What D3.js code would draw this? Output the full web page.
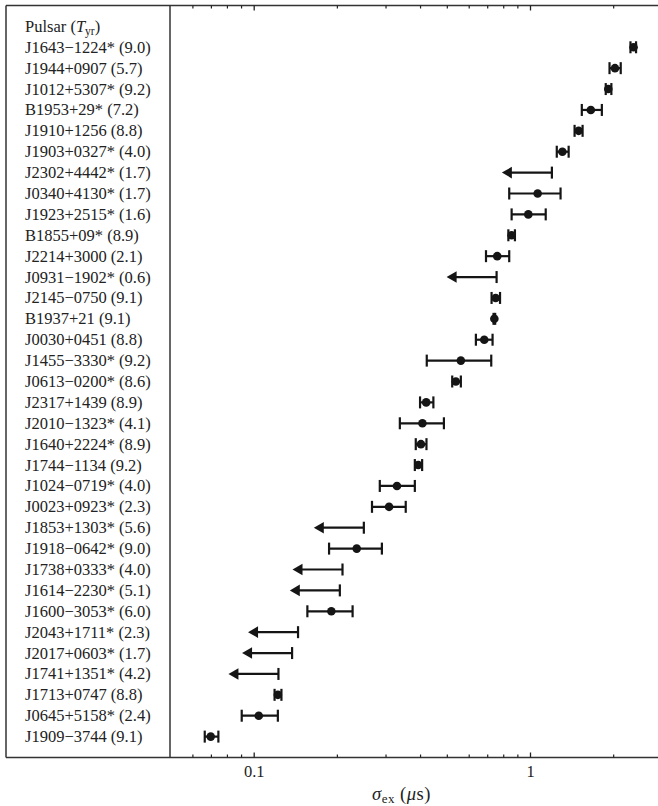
<!DOCTYPE html>
<html>
<head>
<meta charset="utf-8">
<script src="https://cdn.jsdelivr.net/npm/d3@7"></script>
<style>
  html, body { margin: 0; padding: 0; background: #fff; }
  svg { display: block; }
  text { font-family: "Liberation Serif", "Times New Roman", serif; fill: #222; }
</style>
</head>
<body>
<svg id="chart" width="658" height="806"></svg>
<script>
// Pulsars, top to bottom, with their data span in years
const pulsars = [
  "J1643−1224*", "J1944+0907", "J1012+5307*", "B1953+29*", "J1910+1256",
  "J1903+0327*", "J2302+4442*", "J0340+4130*", "J1923+2515*", "B1855+09*",
  "J2214+3000", "J0931−1902*", "J2145−0750", "B1937+21", "J0030+0451",
  "J1455−3330*", "J0613−0200*", "J2317+1439", "J2010−1323*", "J1640+2224*",
  "J1744−1134", "J1024−0719*", "J0023+0923*", "J1853+1303*", "J1918−0642*",
  "J1738+0333*", "J1614−2230*", "J1600−3053*", "J2043+1711*", "J2017+0603*",
  "J1741+1351*", "J1713+0747", "J0645+5158*", "J1909−3744"
];
const spanYears = [
  "9.0", "5.7", "9.2", "7.2", "8.8", "4.0", "1.7", "1.7", "1.6", "8.9",
  "2.1", "0.6", "9.1", "9.1", "8.8", "9.2", "8.6", "8.9", "4.1", "8.9",
  "9.2", "4.0", "2.3", "5.6", "9.0", "4.0", "5.1", "6.0", "2.3", "1.7",
  "4.2", "8.8", "2.4", "9.1"
];

// Excess noise estimates (μs): value with lower/upper bounds; null where only an upper limit exists
const sigmaEx = [
  2.37, 2.03, 1.92, 1.66, 1.50, 1.31, null, 1.066, 0.986, 0.858,
  0.761, null, 0.751, 0.743, 0.683, 0.562, 0.539, 0.421, 0.408, 0.403,
  0.394, 0.330, 0.309, null, 0.236, null, null, 0.191, null, null,
  null, 0.1223, 0.1043, 0.0699
];
const sigmaLo = [
  2.31, 1.94, 1.88, 1.54, 1.45, 1.25, null, 0.841, 0.858, 0.835,
  0.693, null, 0.726, 0.738, 0.637, 0.423, 0.523, 0.400, 0.338, 0.386,
  0.383, 0.286, 0.268, null, 0.1874, null, null, 0.1564, null, null,
  null, 0.119, 0.0905, 0.0665
];
const sigmaHi = [
  2.42, 2.13, 1.97, 1.82, 1.55, 1.38, null, 1.29, 1.14, 0.882,
  0.841, null, 0.779, 0.748, 0.732, 0.724, 0.562, 0.447, 0.488, 0.422,
  0.407, 0.383, 0.355, null, 0.291, null, null, 0.228, null, null,
  null, 0.126, 0.1223, 0.0745
];
const upperLimit = [
  null, null, null, null, null, null, 1.20, null, null, null,
  null, 0.757, null, null, null, null, null, null, null, null,
  null, null, null, 0.2504, null, 0.2096, 0.205, null, 0.1447, 0.1377,
  0.1229, null, null, null
];

// Axis ticks
const majorTicks = [0.1, 1];
const majorTickLabels = ["0.1", "1"];
const minorTicks = [0.06, 0.07, 0.08, 0.09, 0.2, 0.3, 0.4, 0.5, 0.6, 0.7, 0.8, 0.9, 2];

const svg = d3.select("#chart");
const W = 658;
const yTop = 5.5, yBottom = 757.5, panelLeft = 6, plotLeft = 170;

const x = d3.scaleLog().domain([0.1, 1]).range([253.7, 530]);
// Row 0 holds the column header; pulsars occupy rows 1..N
const y = d3.scaleLinear().domain([-1, pulsars.length + 1]).range([yTop, yBottom]);

const rows = pulsars.map((name, i) => ({
  name, yrs: spanYears[i], v: sigmaEx[i], lo: sigmaLo[i], hi: sigmaHi[i],
  lim: upperLimit[i], row: i + 1
}));

// Frame
const frame = svg.append("g").attr("stroke", "#333").attr("stroke-width", 1.5).attr("fill", "none");
frame.append("line").attr("x1", panelLeft).attr("x2", W).attr("y1", yTop).attr("y2", yTop);
frame.append("line").attr("x1", panelLeft).attr("x2", W).attr("y1", yBottom).attr("y2", yBottom);
frame.append("line").attr("x1", panelLeft).attr("x2", panelLeft).attr("y1", yTop).attr("y2", yBottom);
frame.append("line").attr("x1", plotLeft).attr("x2", plotLeft).attr("y1", yTop).attr("y2", yBottom);

// Bottom axis: inward ticks, labels below
const axB = svg.append("g").attr("transform", `translate(0,${yBottom})`)
  .call(d3.axisBottom(x).tickValues(majorTicks).tickSize(-5).tickPadding(8)
    .tickFormat((d, i) => majorTickLabels[i]));
axB.select(".domain").remove();
axB.selectAll("line").attr("stroke", "#222").attr("stroke-width", 1.3);
axB.selectAll("text").attr("font-family", "Liberation Serif").attr("font-size", 16.5).attr("fill", "#222");
const axBm = svg.append("g").attr("transform", `translate(0,${yBottom})`)
  .call(d3.axisBottom(x).tickValues(minorTicks).tickSize(-3).tickFormat(""));
axBm.select(".domain").remove();
axBm.selectAll("line").attr("stroke", "#222").attr("stroke-width", 1.2);

// Top axis: inward ticks, no labels
const axT = svg.append("g").attr("transform", `translate(0,${yTop})`)
  .call(d3.axisTop(x).tickValues(majorTicks).tickSize(-5).tickFormat(""));
axT.select(".domain").remove();
axT.selectAll("line").attr("stroke", "#222").attr("stroke-width", 1.3);
const axTm = svg.append("g").attr("transform", `translate(0,${yTop})`)
  .call(d3.axisTop(x).tickValues(minorTicks).tickSize(-3).tickFormat(""));
axTm.select(".domain").remove();
axTm.selectAll("line").attr("stroke", "#222").attr("stroke-width", 1.2);

// Axis title: σ_ex (μs)
const xt = svg.append("text").attr("x", 372).attr("y", 800)
  .attr("font-size", 18.5).attr("letter-spacing", 0.5);
xt.append("tspan").attr("font-style", "italic").text("σ");
xt.append("tspan").attr("font-size", 13).attr("dy", 3).text("ex");
xt.append("tspan").attr("dy", -3).text(" (");
xt.append("tspan").attr("font-style", "italic").text("μ");
xt.append("tspan").text("s)");

// Pulsar name column
const labelX = 25;
const hdr = svg.append("text").attr("x", labelX).attr("y", y(0) + 5.5).attr("font-size", 16.5);
hdr.append("tspan").text("Pulsar (");
hdr.append("tspan").attr("font-style", "italic").text("T");
hdr.append("tspan").attr("font-size", 11.5).attr("dy", 3).text("yr");
hdr.append("tspan").attr("dy", -3).text(")");

svg.append("g").selectAll("text").data(rows).join("text")
  .attr("x", labelX).attr("y", d => y(d.row) + 5.5)
  .attr("font-size", 16.5)
  .text(d => `${d.name} (${d.yrs})`);

// Measurements with error bars
const ink = "#151515";
const capH = 6;
const meas = rows.filter(d => d.v != null);
const mg = svg.append("g").attr("stroke", ink).attr("stroke-width", 2.2);
mg.selectAll("line.bar").data(meas).join("line").attr("class", "bar")
  .attr("x1", d => x(d.lo)).attr("x2", d => x(d.hi))
  .attr("y1", d => y(d.row)).attr("y2", d => y(d.row));
mg.selectAll("line.capl").data(meas).join("line").attr("class", "capl")
  .attr("x1", d => x(d.lo)).attr("x2", d => x(d.lo))
  .attr("y1", d => y(d.row) - capH).attr("y2", d => y(d.row) + capH);
mg.selectAll("line.capr").data(meas).join("line").attr("class", "capr")
  .attr("x1", d => x(d.hi)).attr("x2", d => x(d.hi))
  .attr("y1", d => y(d.row) - capH).attr("y2", d => y(d.row) + capH);
svg.append("g").selectAll("circle").data(meas).join("circle")
  .attr("cx", d => x(d.v)).attr("cy", d => y(d.row)).attr("r", 4.3).attr("fill", ink);

// Upper limits: cap at the limit, arrow pointing to lower values
const arrowLen = 50, headLen = 10, headHalf = 5.8;
const lims = rows.filter(d => d.lim != null);
const lg = svg.append("g");
lg.selectAll("line.lbar").data(lims).join("line").attr("class", "lbar")
  .attr("stroke", ink).attr("stroke-width", 2.2)
  .attr("x1", d => x(d.lim) - arrowLen + headLen - 1).attr("x2", d => x(d.lim))
  .attr("y1", d => y(d.row)).attr("y2", d => y(d.row));
lg.selectAll("line.lcap").data(lims).join("line").attr("class", "lcap")
  .attr("stroke", ink).attr("stroke-width", 2.2)
  .attr("x1", d => x(d.lim)).attr("x2", d => x(d.lim))
  .attr("y1", d => y(d.row) - capH).attr("y2", d => y(d.row) + capH);
lg.selectAll("path").data(lims).join("path")
  .attr("fill", ink)
  .attr("d", d => {
    const tx = x(d.lim) - arrowLen, ty = y(d.row);
    return `M${tx},${ty}L${tx + headLen},${ty - headHalf}L${tx + headLen},${ty + headHalf}Z`;
  });
</script>
</body>
</html>
